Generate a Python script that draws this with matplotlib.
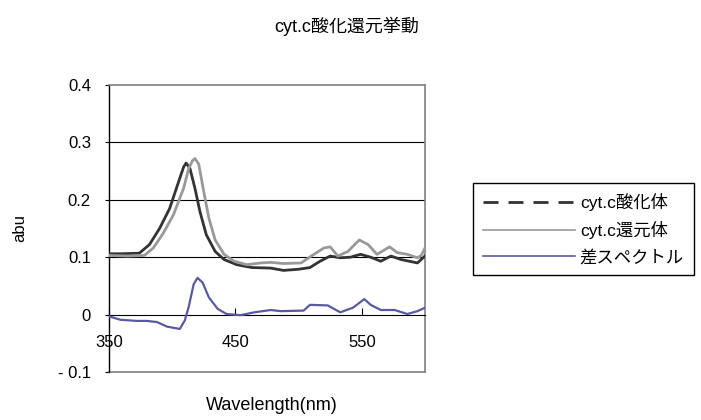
import matplotlib
matplotlib.use("Agg")
import matplotlib.pyplot as plt
from matplotlib.lines import Line2D

plt.rcParams['font.family'] = ['Liberation Sans', 'Noto Sans CJK JP']

# spectra
wl_ox = [350, 360, 374, 382, 390, 398, 405, 409, 411, 414, 418, 422, 427, 434, 441,
         451, 463, 478, 488, 500, 509, 517, 525, 533, 541, 549, 557, 565, 573, 581,
         594, 600]
ox = [0.106, 0.106, 0.107, 0.122, 0.150, 0.185, 0.231, 0.257, 0.264, 0.255, 0.220,
      0.179, 0.139, 0.110, 0.096, 0.087, 0.082, 0.081, 0.077, 0.079, 0.082, 0.093,
      0.102, 0.099, 0.100, 0.105, 0.100, 0.093, 0.102, 0.096, 0.090, 0.102]

wl_red = [350, 365, 378, 385, 393, 401, 409, 413, 416, 418, 421, 425, 429, 434, 441,
          449, 459, 470, 478, 488, 502, 510, 520, 525, 531, 539, 548, 555, 562, 572,
          578, 586, 594, 597, 600]
red = [0.103, 0.102, 0.103, 0.116, 0.142, 0.174, 0.220, 0.254, 0.268, 0.272, 0.262,
       0.214, 0.168, 0.130, 0.105, 0.093, 0.087, 0.090, 0.091, 0.089, 0.090, 0.102,
       0.116, 0.118, 0.102, 0.110, 0.130, 0.122, 0.105, 0.118, 0.108, 0.105, 0.099,
       0.103, 0.116]

wl_diff = [350, 359, 372, 380, 388, 396, 406, 410, 413, 417, 420, 424, 429, 436, 443,
           454, 465, 478, 486, 504, 509, 523, 533, 543, 552, 557, 565, 576, 586, 594,
           600]
diff = [-0.003, -0.009, -0.011, -0.011, -0.013, -0.021, -0.025, -0.010, 0.013, 0.053,
        0.064, 0.056, 0.030, 0.010, 0.001, -0.001, 0.004, 0.008, 0.006, 0.007, 0.017,
        0.016, 0.004, 0.012, 0.027, 0.017, 0.008, 0.008, 0.001, 0.006, 0.012]

names = ['cyt.c酸化体', 'cyt.c還元体', '差スペクトル']
xticks = [350, 450, 550]
yticks = [-0.1, 0, 0.1, 0.2, 0.3, 0.4]
ylabels = ['- 0.1', '0', '0.1', '0.2', '0.3', '0.4']

c_ox, c_red, c_diff = '#333333', '#999999', '#5a5aa0'

fig = plt.figure(figsize=(7.01, 4.2), dpi=100)
ax = fig.add_axes([109 / 701, 48 / 420, 316 / 701, 287 / 420])

for y in [0.1, 0.2, 0.3]:
    ax.axhline(y, color='black', lw=0.8, zorder=1)

ax.plot(wl_ox, ox, color=c_ox, lw=2, zorder=3)
ax.plot(wl_red, red, color=c_red, lw=2, zorder=3)
ax.plot(wl_diff, diff, color=c_diff, lw=1.6, zorder=3)

ax.set_xlim(350, 600)
ax.set_ylim(-0.1, 0.4)
ax.set_xticks(xticks)
ax.set_yticks(yticks)
ax.set_yticklabels(ylabels)

ax.spines['bottom'].set_position(('data', 0))
ax.spines['bottom'].set_linewidth(0.8)
ax.spines['left'].set_linewidth(1)
for s in ['top', 'right']:
    ax.spines[s].set_color('#808080')
    ax.spines[s].set_linewidth(1.2)
ax.axhline(-0.1, color='#808080', lw=1.2, clip_on=False)

ax.tick_params(axis='x', direction='in', length=5, pad=15, labelsize=12)
ax.tick_params(axis='y', direction='out', length=3, pad=10, labelsize=12)

ax.set_xlabel('Wavelength(nm)', fontsize=13, va='center')
ax.xaxis.set_label_coords(0.515, -0.115)
ax.set_ylabel('abu', fontsize=12)
ax.yaxis.set_label_coords(-0.26, 0.5)

fig.text(0.495, 1 - 26 / 420, 'cyt.c酸化還元挙動', ha='center', va='center', fontsize=13)

handles = [
    Line2D([], [], color=c_ox, lw=2, linestyle=(0, (5.4, 3.6))),
    Line2D([], [], color=c_red, lw=1.2),
    Line2D([], [], color=c_diff, lw=1.2),
]
fig.legend(handles, names, loc='center left', bbox_to_anchor=(473 / 701, 1 - 229 / 420),
           frameon=True, fancybox=False, edgecolor='black', framealpha=1,
           fontsize=12.5, handlelength=5.3, handletextpad=0.3, borderpad=0.55,
           labelspacing=0.6, borderaxespad=0)

fig.savefig('out.png', dpi=100)
